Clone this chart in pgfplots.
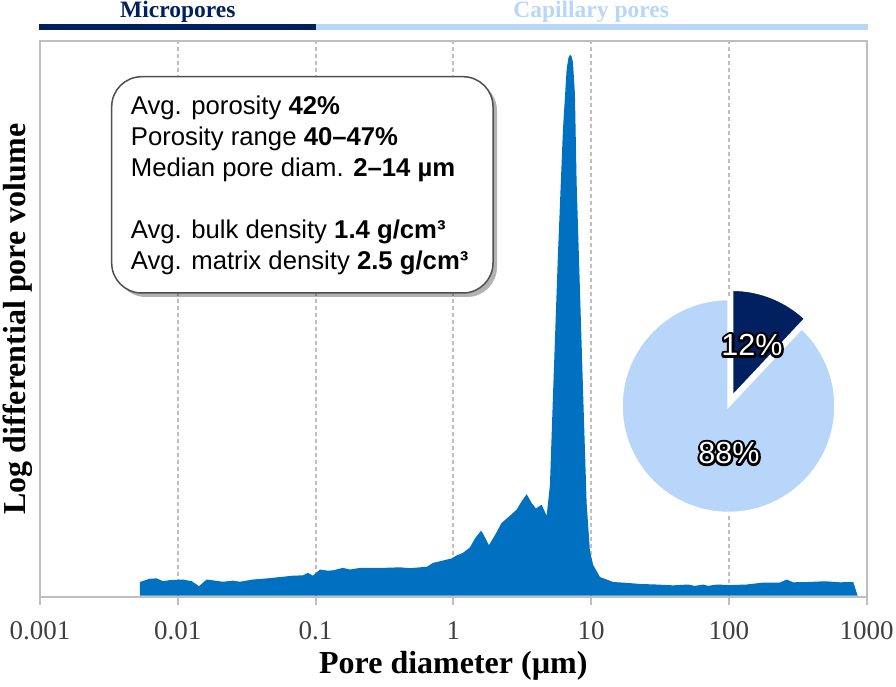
\documentclass[border=0pt]{standalone}
\usepackage{fontspec}
\setmainfont{Liberation Serif}
\newfontfamily\arial{Liberation Sans}
\usepackage{pgfplots}
\pgfplotsset{compat=1.18}
\usetikzlibrary{shadows}

\definecolor{poreblue}{RGB}{0,112,192}
\definecolor{navy}{RGB}{0,32,96}
\definecolor{lightpore}{RGB}{183,214,250}
\definecolor{framegray}{RGB}{191,191,191}
\definecolor{tickgray}{RGB}{64,64,64}
\definecolor{boxgray}{RGB}{80,80,80}

% pore share (%): micropores / capillary pores
\def\microshare{12}
\def\capshare{88}

% white text with a black outline (stroked copy underneath)
\newcommand\outlined[1]{%
  \makebox[0pt][l]{\color{black}\special{pdf:literal direct 1 Tr 4.8 w 1 j}#1\special{pdf:literal direct 0 Tr}}%
  \textcolor{white}{#1}}

\begin{document}
\begin{tikzpicture}
\begin{axis}[
  at={(40pt,89pt)}, anchor=south west,
  scale only axis, width=826.7pt, height=556pt,
  xmode=log, xmin=0.001, xmax=1000,
  ymin=-0.25, ymax=100,
  ytick=\empty,
  xtick={0.001,0.01,0.1,1,10,100,1000},
  xticklabels={0.001,0.01,0.1,1,10,100,1000},
  xminorticks=false,
  xtick pos=bottom, tick align=outside,
  major tick length=8pt,
  axis line style={draw=framegray, line width=2pt},
  tick style={draw=framegray, line width=2pt},
  xmajorgrids,
  grid style={draw=framegray, line width=2pt, dash pattern=on 4pt off 3pt},
  xticklabel style={font=\fontsize{27}{27}\selectfont, text=tickgray, anchor=base, yshift=-34pt},
  xlabel={Pore diameter (µm)},
  xlabel style={font=\fontsize{32}{32}\selectfont\bfseries, at={(axis description cs:0.5,0)}, anchor=base, yshift=-76pt},
  ylabel={Log differential pore volume},
  ylabel style={font=\fontsize{32}{32}\selectfont\bfseries, at={(axis description cs:-0.0266,0.5)}, anchor=center},
  clip=false,
]
\addplot[fill=poreblue, draw=none] coordinates {
(0.005317,2.46) (0.006284,3.06) (0.007028,3.1) (0.007810,2.6) (0.008778,2.8)
(0.01091,2.9) (0.01262,2.6) (0.01425,1.7) (0.01621,2.9) (0.01800,2.75)
(0.02128,2.5) (0.02516,2.7) (0.02828,2.5) (0.03512,2.9) (0.04438,3.1)
(0.05799,3.4) (0.06855,3.6) (0.08105,3.65) (0.08808,4.1) (0.09574,3.6)
(0.1076,4.7) (0.1230,4.5) (0.1337,4.55) (0.1580,5.0) (0.1777,4.7)
(0.2100,5.0) (0.3083,5.0) (0.4097,5.1) (0.4843,4.95) (0.6435,5.2)
(0.7112,5.9) (0.8987,6.5) (0.9721,6.7) (1.057,7.25) (1.174,7.7)
(1.320,8.7) (1.435,10.3) (1.586,11.7) (1.640,11.2) (1.813,9.1)
(2.004,10.9) (2.241,13.1) (2.575,14.4) (2.880,15.5) (3.131,17.0)
(3.403,18.3) (3.700,16.7) (3.976,15.7) (4.374,16.4) (4.755,14.4)
(5.024,19.9) (5.283,35.9) (5.742,61.5) (6.244,84) (6.641,94.9)
(6.85,97.0) (7.020,97.5) (7.20,97.3) (7.378,96.2) (7.629,90.4)
(7.849,74.4) (8.294,55.2) (8.764,35.9) (9.276,16.7) (9.801,8.0)
(10.36,5.5) (11.20,4.0) (11.59,3.35) (12.96,2.9) (14.47,2.45)
(18.10,2.3) (22.60,2.1) (29.88,2.0) (39.43,1.85) (50.66,2.0)
(56.65,1.75) (65.09,2.0) (70.76,1.75) (81.42,2.0) (101.7,1.9)
(134.4,2.0) (177.4,2.35) (234.5,2.35) (262.2,2.9) (292.8,2.4)
(366.4,2.45) (457.6,2.55) (525.6,2.55) (639.0,2.4) (798.1,2.45)
(860,0)
} \closedcycle;

% pore class bar above the plot
\draw[navy, line width=6pt] ([xshift=-1.3pt]axis cs:0.001,102.5) -- (axis cs:0.1,102.5);
\draw[lightpore, line width=6pt] (axis cs:0.1,102.5) -- ([xshift=1.3pt]axis cs:1000,102.5);
\node[navy, font=\fontsize{23.5}{24}\selectfont\bfseries, anchor=base] at (axis cs:0.01,104.2) {Micropores};
\node[lightpore, font=\fontsize{23.5}{24}\selectfont\bfseries, anchor=base] at (axis cs:10,104.2) {Capillary pores};
\end{axis}

\begin{scope}[x=1pt, y=1pt]
% info box
\draw[rounded corners=30pt, draw=boxgray, line width=1.5pt, fill=white,
      drop shadow={shadow xshift=4pt, shadow yshift=-4pt, fill=black, opacity=0.3}]
  (111.7,393) rectangle (493,609.3);
\begin{scope}[every node/.style={anchor=base west, inner sep=0pt, font=\arial\fontsize{25.7}{26}\selectfont}]
\node at (130.7,571) {Avg. porosity \textbf{42\%}};
\node at (130.7,540) {Porosity range \textbf{40–47\%}};
\node at (130.7,509) {Median pore diam. \textbf{2–14 µm}};
\node at (130.7,447) {Avg. bulk density \textbf{1.4 g/cm³}};
\node at (130.7,416) {Avg. matrix density \textbf{2.5 g/cm³}};
\end{scope}

% pie of pore classes
\pgfmathsetmacro\angA{90-3.6*\microshare}
\pgfmathsetmacro\angB{90+3.6*\capshare}
\pgfmathsetmacro\angM{90-1.8*\microshare}
\fill[lightpore, draw=white, line width=2.5pt] (728.5,280) -- ++(90:107) arc[start angle=90, end angle=\angB, radius=107] -- cycle;
\fill[navy, draw=white, line width=2.5pt] ([shift={(\angM:10)}]728.5,280) -- ++(\angA:107) arc[start angle=\angA, end angle=90, radius=107] -- cycle;
\node[font=\arial\fontsize{30.5}{31}\selectfont] at (752,341) {\outlined{\microshare\%}};
\node[font=\arial\fontsize{30.5}{31}\selectfont] at (729,233) {\outlined{\capshare\%}};
\end{scope}

\pgfresetboundingbox
\path[use as bounding box] (0,0) rectangle (896pt,686pt);
\end{tikzpicture}
\end{document}
